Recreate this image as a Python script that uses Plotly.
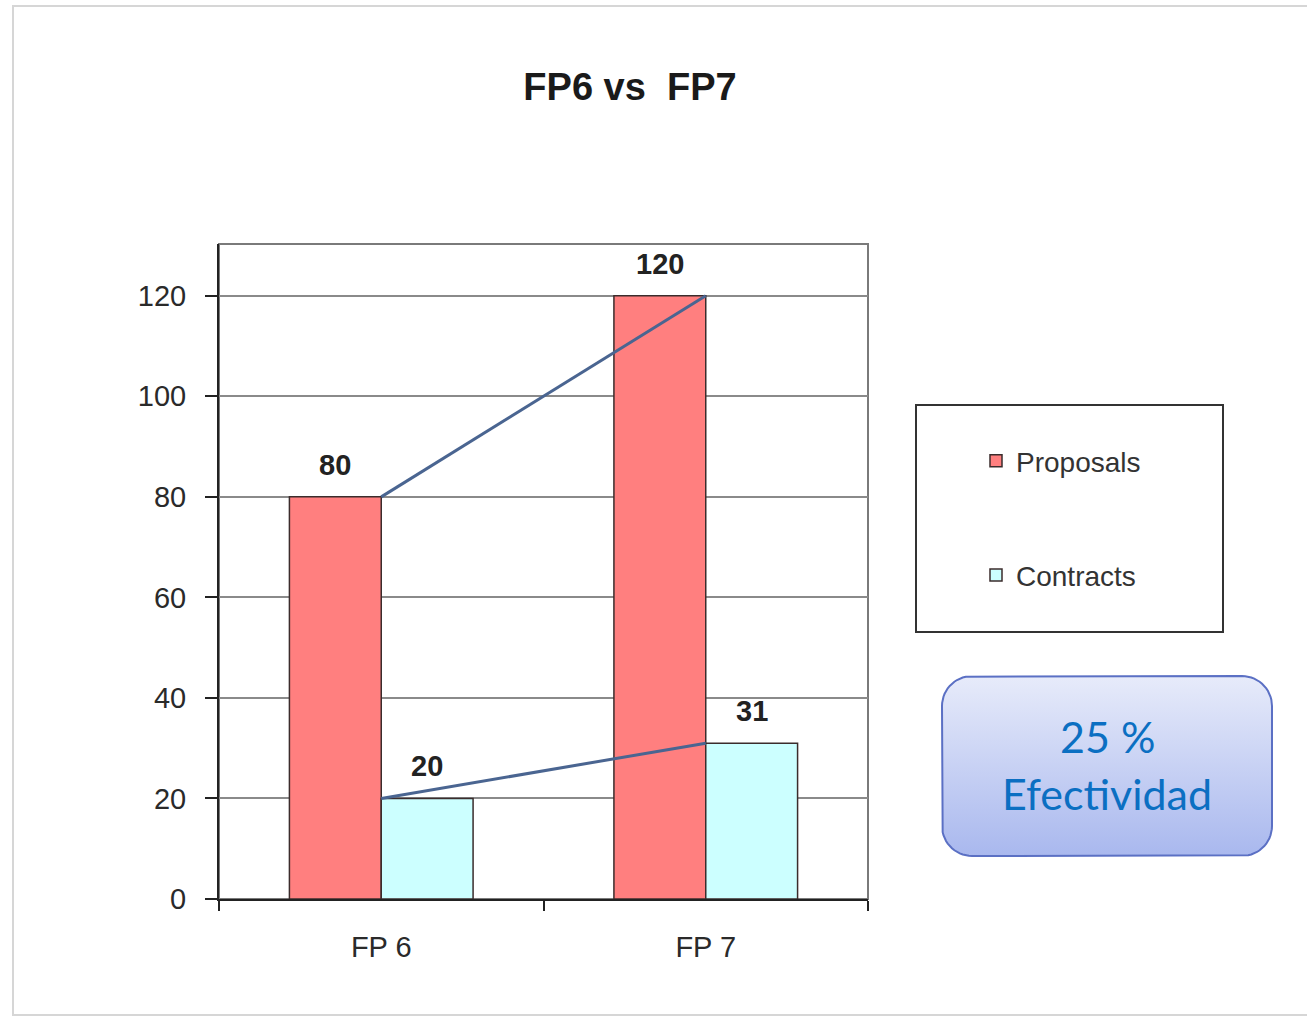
import numpy as np
import plotly.graph_objects as go

# ---------------- data ----------------
categories = ["FP 6", "FP 7"]
proposals = [80, 120]
contracts = [20, 31]
series_names = ["Proposals", "Contracts"]
y_ticks = [0, 20, 40, 60, 80, 100, 120]
title_text = "FP6 vs\u00a0\u00a0FP7"
box_lines = ["25 %", "Efectividad"]

# ---------------- layout helpers (pixel -> paper) ----------------
W, H = 1307, 1017
def px(x):
    return x / W
def py(y):
    return 1 - y / H

FONT = "Liberation Sans, Arial, sans-serif"
plot_l, plot_r, plot_t, plot_b = 219, 868, 244, 899

fig = go.Figure()

fig.add_trace(go.Bar(
    x=categories, y=proposals, name=series_names[0],
    marker=dict(color="#ff7f7f", line=dict(color="#3b2c2c", width=1.5)),
    legendgroup="p", hoverinfo="skip",
))
fig.add_trace(go.Bar(
    x=categories, y=contracts, name=series_names[1],
    marker=dict(color="#ccffff", line=dict(color="#3b2c2c", width=1.5)),
    legendgroup="c", hoverinfo="skip",
))
for vals in (proposals, contracts):
    fig.add_trace(go.Scatter(
        x=categories, y=vals, mode="lines",
        line=dict(color="#4a6591", width=3),
        showlegend=False, hoverinfo="skip",
    ))

# value labels above bars
for vals, shift in ((proposals, -46), (contracts, 46)):
    for c, v in zip(categories, vals):
        fig.add_annotation(
            x=c, y=v, xref="x", yref="y", text=f"<b>{v}</b>",
            showarrow=False, xshift=shift, yshift=14, yanchor="bottom",
            font=dict(family=FONT, size=29, color="#222222"),
        )

# rounded gradient box (decoration) on an overlay pixel axis
bx0, bx1, by0, by1 = 942, 1272, 676, 856
r = 30
yb0, yb1 = H - by1, H - by0  # y-up
pts = []
for cx, cy, a0 in ((bx1 - r, yb1 - r, 0), (bx0 + r, yb1 - r, 90),
                   (bx0 + r, yb0 + r, 180), (bx1 - r, yb0 + r, 270)):
    t = np.radians(np.linspace(a0, a0 + 90, 16))
    pts += list(zip(cx + r * np.cos(t), cy + r * np.sin(t)))
pts.append(pts[0])
fig.add_trace(go.Scatter(
    x=[p[0] for p in pts], y=[p[1] for p in pts],
    xaxis="x2", yaxis="y2", mode="lines", fill="toself",
    fillgradient=dict(type="vertical",
                      colorscale=[[0, "#a9b8ee"], [1, "#e7ebfa"]]),
    line=dict(color="#5b70c4", width=2),
    showlegend=False, hoverinfo="skip",
))
for txt, yc in zip(box_lines, (736, 793)):
    fig.add_annotation(
        x=px(1107), y=py(yc), xref="paper", yref="paper", text=txt,
        showarrow=False, xanchor="center", yanchor="middle",
        font=dict(family="Lato, Open Sans, sans-serif", size=43, color="#0b6fc2"),
    )

shapes = [
    # page frame
    dict(type="rect", xref="paper", yref="paper", x0=px(13), x1=px(1320),
         y0=py(1015), y1=py(6), line=dict(color="#d6d6d6", width=2), layer="below"),
    # plot frame (top/right gray)
    dict(type="rect", xref="x domain", yref="y domain", x0=0, x1=1, y0=0, y1=1,
         line=dict(color="#7a7a7a", width=2), layer="below"),
    # legend frame
    dict(type="rect", xref="paper", yref="paper", x0=px(916), x1=px(1223),
         y0=py(632), y1=py(405), line=dict(color="#333333", width=2)),
]

fig.update_layout(
    width=W, height=H,
    margin=dict(l=0, r=0, t=0, b=0, pad=0, autoexpand=False),
    paper_bgcolor="white", plot_bgcolor="rgba(0,0,0,0)",
    font=dict(family=FONT, size=28, color="#2a2a2a"),
    barmode="group", bargap=0.434, bargroupgap=0,
    title=dict(text=title_text, x=px(630), xanchor="center", y=py(87),
               yanchor="middle", xref="container", yref="container",
               font=dict(family=FONT, size=38, color="#1a1a1a", weight="bold")),
    xaxis=dict(domain=[px(plot_l), px(plot_r)], type="category",
               showline=True, linecolor="#222222", linewidth=2,
               ticks="outside", tickson="boundaries", ticklen=10,
               tickcolor="#222222", tickwidth=2, showgrid=False,
               ticklabelstandoff=21,
               tickfont=dict(family=FONT, size=29, color="#2a2a2a")),
    yaxis=dict(domain=[py(plot_b), py(plot_t)], range=[0, 130.3],
               tickvals=y_ticks, showline=True, linecolor="#222222", linewidth=2,
               ticks="outside", ticklen=12, tickcolor="#222222", tickwidth=2,
               showgrid=True, gridcolor="#8a8a8a", gridwidth=1.5, zeroline=False,
               ticklabelstandoff=13,
               tickfont=dict(family=FONT, size=29, color="#2a2a2a")),
    xaxis2=dict(domain=[0, 1], range=[0, W], visible=False, anchor="y2",
                fixedrange=True),
    yaxis2=dict(domain=[0, 1], range=[0, H], visible=False, anchor="x2",
                fixedrange=True),
    legend=dict(x=px(976), y=py(436), xanchor="left", yanchor="top",
                bgcolor="rgba(0,0,0,0)", borderwidth=0,
                traceorder="grouped", tracegroupgap=75,
                font=dict(family=FONT, size=28, color="#333333")),
    shapes=shapes,
    showlegend=True,
)

fig.write_html("out.html", config={"displayModeBar": False},
               post_script="document.body.style.margin='0';document.body.style.overflow='hidden';")
